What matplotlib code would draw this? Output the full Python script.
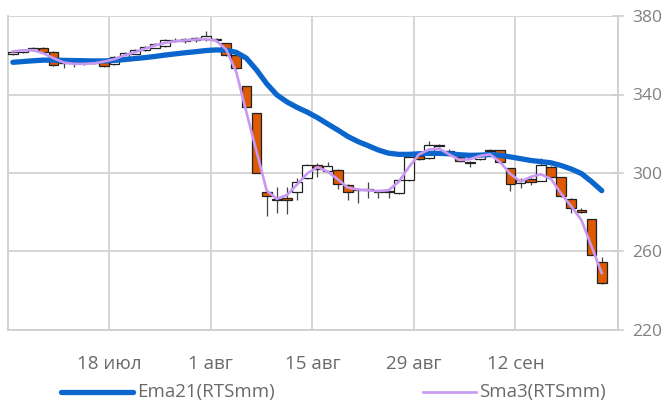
import numpy as np
import matplotlib
matplotlib.use("Agg")
import matplotlib.pyplot as plt
from matplotlib.lines import Line2D

plt.rcParams["font.family"] = ["Open Sans", "DejaVu Sans"]

# daily candles, 4 jul .. 22 sep (trading days)
opens = [360.8, 361.8, 362.6, 363.8, 361.8, 355.8, 356.0, 356.2, 356.0, 356.5,
         355.5, 359.0, 360.8, 362.5, 363.8, 364.5, 367.5, 367.5, 368.0, 368.3,
         368.3, 366.0, 360.0, 344.3, 330.4, 290.5, 287.0, 287.2, 290.2, 297.3,
         304.0, 301.0, 301.5, 294.0, 291.5, 291.3, 290.8, 291.0, 289.7, 296.4,
         308.5, 307.5, 314.5, 311.3, 308.0, 305.3, 307.0, 311.2, 311.5, 302.5,
         295.0, 297.0, 296.0, 303.2, 298.0, 287.0, 281.0, 276.4, 254.5]
closes = [361.8, 362.6, 363.8, 361.8, 355.0, 356.2, 356.4, 356.0, 356.3, 354.5,
          359.0, 361.0, 362.7, 364.0, 365.6, 367.8, 367.8, 368.3, 368.8, 369.8,
          368.0, 360.0, 353.5, 333.5, 300.2, 288.5, 286.3, 286.2, 295.6, 304.1,
          302.0, 303.6, 294.2, 290.5, 291.2, 291.5, 290.5, 290.2, 296.4, 308.0,
          307.0, 314.5, 313.8, 310.9, 306.0, 305.4, 309.0, 311.7, 305.5, 294.3,
          296.5, 295.3, 304.0, 298.0, 288.3, 282.0, 280.0, 258.2, 243.7]
highs = [362.6, 363.2, 364.2, 364.0, 362.0, 357.0, 357.0, 357.0, 357.2, 357.0,
         359.5, 361.5, 363.2, 364.5, 366.0, 368.3, 368.8, 369.0, 369.5, 372.4,
         369.0, 366.2, 360.2, 344.5, 330.6, 291.0, 293.0, 293.0, 297.3, 304.8,
         305.0, 305.5, 301.8, 294.2, 292.5, 295.6, 291.5, 291.5, 296.8, 308.5,
         309.0, 316.3, 314.8, 312.0, 308.3, 306.0, 309.5, 312.2, 311.8, 302.8,
         297.2, 297.2, 307.5, 303.5, 298.2, 287.5, 282.2, 276.8, 257.0]
lows = [360.0, 361.2, 362.2, 361.5, 354.5, 353.5, 353.8, 355.2, 355.5, 354.0,
        355.0, 358.5, 360.5, 362.0, 363.5, 364.2, 366.5, 366.3, 367.0, 367.5,
        367.0, 359.6, 353.2, 333.3, 300.0, 278.0, 279.5, 279.0, 286.2, 296.8,
        298.0, 300.5, 291.7, 286.2, 284.9, 287.1, 287.5, 287.3, 289.5, 296.0,
        306.5, 307.0, 313.0, 310.2, 305.8, 303.2, 306.8, 310.0, 305.2, 290.8,
        292.5, 294.0, 295.7, 297.8, 288.0, 279.5, 279.5, 258.0, 243.5]

ema21 = [356.4, 356.8, 357.2, 357.5, 357.5, 357.4, 357.3, 357.2, 357.1, 357.1,
         357.4, 357.8, 358.3, 358.8, 359.4, 360.1, 360.7, 361.3, 361.8, 362.4,
         362.7, 362.6, 361.5, 358.5, 352.5, 345.5, 339.8, 336.2, 333.4, 331.0,
         328.2, 325.0, 321.9, 318.6, 316.0, 313.9, 311.7, 310.1, 309.5, 309.5,
         309.8, 310.0, 310.0, 309.8, 309.3, 309.0, 309.1, 309.4, 309.0, 308.2,
         307.3, 306.4, 305.8, 305.2, 303.8, 302.0, 299.7, 295.6, 291.0]
sma3 = [362.0, 362.5, 362.6, 361.0, 358.5, 356.3, 355.6, 355.6, 355.9, 356.8,
        358.0, 360.0, 361.5, 363.3, 365.0, 366.3, 367.2, 367.6, 368.0, 368.2,
        367.5, 363.0, 351.5, 331.0, 311.0, 291.0, 286.8, 288.8, 294.2, 299.8,
        303.0, 300.7, 296.8, 292.5, 291.6, 291.2, 290.8, 291.2, 295.5, 303.0,
        309.5, 312.0, 312.4, 309.4, 306.6, 307.0, 308.7, 309.5, 305.5, 299.5,
        295.6, 298.0, 299.4, 297.0, 289.5, 283.0, 276.0, 262.5, 249.0]

tick_pos = [9.5, 19.5, 29.5, 39.5, 49.5]
tick_labels = ["18 июл", "1 авг", "15 авг", "29 авг", "12 сен"]
y_ticks = [220, 260, 300, 340, 380]

up_color = "white"
down_color = "#DD5A00"
ema_color = "#0A66CC"
sma_color = "#C898F2"
grid_color = "#CFCFCF"
text_color = "#6A6A6A"

fig = plt.figure(figsize=(6.68, 4.03), dpi=100)
ax = fig.add_axes([8 / 668, 1 - 330 / 403, 610 / 668, 314 / 403])

x = np.arange(len(closes))
o = np.array(opens)
c = np.array(closes)
body_lo = np.minimum(o, c)
body_h = np.maximum(np.abs(c - o), 0.35)
colors = [up_color if cc >= oo else down_color for oo, cc in zip(o, c)]

ax.vlines(x, lows, highs, color="#444444", linewidth=0.9, zorder=2)
ax.bar(x, body_h, bottom=body_lo, width=0.95, color=colors,
       edgecolor="#222222", linewidth=0.9, zorder=3)

ax.plot(x, ema21, color=ema_color, linewidth=3.8, solid_capstyle="round", zorder=4)
ax.plot(x, sma3, color=sma_color, linewidth=1.9, zorder=5)

ax.set_xlim(-0.48, 59.6)
ax.set_ylim(220, 380)

ax.set_xticks(tick_pos)
ax.set_xticklabels(tick_labels, fontsize=13.5, color=text_color)
ax.set_yticks(y_ticks)
ax.set_yticklabels([str(v) for v in y_ticks], fontsize=12.5, color="#808080")
ax.yaxis.tick_right()
ax.tick_params(axis="x", length=0, pad=18)
ax.tick_params(axis="y", direction="inout", length=8, width=1.2,
               color=grid_color, pad=6)

ax.grid(True, color=grid_color, linewidth=1.2)
ax.set_axisbelow(True)
for side in ["left", "right", "bottom"]:
    ax.spines[side].set_color(grid_color)
    ax.spines[side].set_linewidth(1.3)
ax.spines["top"].set_visible(False)

# legend drawn in figure coords
ly = 1 - 392 / 403
fig.add_artist(Line2D([61 / 668, 133 / 668], [ly, ly],
                      color=ema_color, linewidth=3.8, solid_capstyle="round"))
fig.text(137 / 668, ly, "Ema21(RTSmm)", fontsize=13.5,
         color=text_color, va="center")
fig.add_artist(Line2D([423 / 668, 476 / 668], [ly, ly],
                      color=sma_color, linewidth=1.9))
fig.text(479 / 668, ly, "Sma3(RTSmm)", fontsize=13.5,
         color=text_color, va="center")

fig.savefig("out.png", dpi=100)
